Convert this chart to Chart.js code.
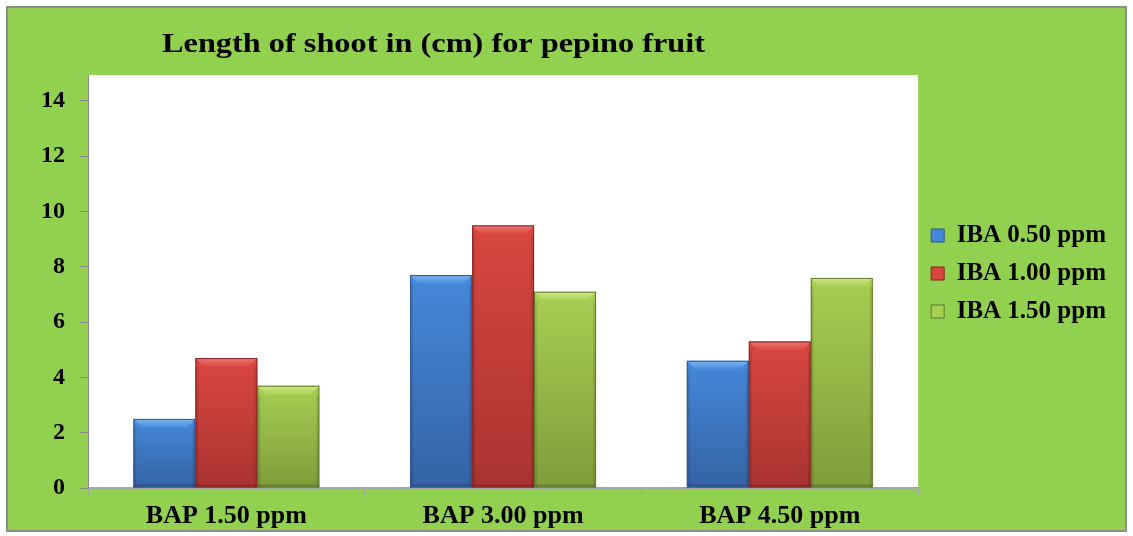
<!DOCTYPE html>
<html>
<head>
<meta charset="utf-8">
<script src="https://cdn.jsdelivr.net/npm/chart.js@4.4.0/dist/chart.umd.min.js"></script>
<style>
html, body { margin: 0; padding: 0; background: #fff; }
#frame { position: absolute; left: 6px; top: 6px; width: 1117px; height: 522px;
         border: 2px solid #8c8c8c; background: #92d050; }
</style>
</head>
<body>
<div id="frame"><canvas id="myChart"></canvas></div>
<script>
var categories = ["BAP 1.50 ppm", "BAP 3.00 ppm", "BAP 4.50 ppm"];
var seriesNames = ["IBA 0.50 ppm", "IBA 1.00 ppm", "IBA 1.50 ppm"];
var iba050 = [2.5, 7.7, 4.6];
var iba100 = [4.7, 9.5, 5.3];
var iba150 = [3.7, 7.1, 7.6];
var yTicks = [0, 2, 4, 6, 8, 10, 12, 14];
var titleText = "Length of shoot in (cm) for pepino fruit";

var FONT = '"Liberation Serif", "Times New Roman", serif';

var blue = { light: '#7cb8f2', top: '#4688da', bottom: '#3463a3', edge: '#2c5690' };
var red = { light: '#ec7672', top: '#d8473f', bottom: '#a93331', edge: '#862523' };
var green = { light: '#cfe987', top: '#a7cf52', bottom: '#7f9c3a', edge: '#62792b' };

// vertical gradient from each bar's top to the baseline
function barFill(pal) {
    return function (c) {
        if (c.type !== 'data' || !c.chart.chartArea) return pal.top;
        var y = c.chart.scales.y;
        var top = y.getPixelForValue(c.raw);
        var base = y.getPixelForValue(0);
        var g = c.chart.ctx.createLinearGradient(0, top, 0, base);
        g.addColorStop(0, pal.top);
        g.addColorStop(1, pal.bottom);
        return g;
    };
}

var palettes = [blue, red, green];

// white plot area behind the bars
var plotBg = {
    id: 'plotBg',
    beforeDraw: function (chart) {
        var a = chart.chartArea, ctx = chart.ctx;
        ctx.save();
        ctx.fillStyle = '#ffffff';
        ctx.fillRect(a.left, a.top, a.right - a.left, a.bottom - a.top);
        ctx.restore();
    }
};

// legend sits a bit above the middle of the plot in the original
var legendShift = {
    id: 'legendShift',
    afterLayout: function (chart) {
        chart.legend.bottom -= 58;
    }
};

// bevelled look on top of each bar
var bevel = {
    id: 'bevel',
    afterDatasetsDraw: function (chart) {
        var ctx = chart.ctx;
        chart.data.datasets.forEach(function (ds, i) {
            var pal = palettes[i];
            chart.getDatasetMeta(i).data.forEach(function (bar) {
                var p = bar.getProps(['x', 'y', 'base', 'width'], true);
                var l = p.x - p.width / 2, r = p.x + p.width / 2, t = p.y, b = p.base;
                var bv = Math.min(9, (b - t) / 3);
                ctx.save();
                var g = ctx.createLinearGradient(0, t, 0, t + bv);
                g.addColorStop(0, pal.light);
                g.addColorStop(1, pal.top);
                ctx.fillStyle = g;
                ctx.beginPath();
                ctx.moveTo(l, t); ctx.lineTo(r, t);
                ctx.lineTo(r - bv, t + bv); ctx.lineTo(l + bv, t + bv);
                ctx.closePath(); ctx.fill();
                ctx.fillStyle = 'rgba(0,0,0,0.10)';
                ctx.fillRect(l, t + bv, 3, b - t - bv);
                ctx.fillRect(r - 3, t + bv, 3, b - t - bv);
                ctx.fillStyle = 'rgba(0,0,0,0.15)';
                ctx.fillRect(l, b - 3, r - l, 3);
                ctx.strokeStyle = pal.edge;
                ctx.lineWidth = 1;
                ctx.strokeRect(l + 0.5, t + 0.5, r - l - 1, b - t - 1);
                ctx.restore();
            });
        });
    }
};

// chart title, placed left of centre like the original
var titlePlugin = {
    id: 'titlePlugin',
    afterDraw: function (chart) {
        var ctx = chart.ctx;
        ctx.save();
        ctx.font = 'bold 28px ' + FONT;
        ctx.fillStyle = '#000';
        ctx.textBaseline = 'alphabetic';
        var w = ctx.measureText(titleText).width;
        ctx.translate(154, 44);
        ctx.scale(543 / w, 1);
        ctx.fillText(titleText, 0, 0);
        ctx.restore();
    }
};

var ctx = document.getElementById('myChart').getContext('2d');
var chart = new Chart(ctx, {
    type: 'bar',
    data: {
        labels: categories,
        datasets: [{
            label: seriesNames[0],
            data: iba050,
            backgroundColor: barFill(blue)
        }, {
            label: seriesNames[1],
            data: iba100,
            backgroundColor: barFill(red)
        }, {
            label: seriesNames[2],
            data: iba150,
            backgroundColor: barFill(green)
        }]
    },
    options: {
        responsive: true,
        maintainAspectRatio: false,
        animation: false,
        categoryPercentage: 0.672,
        barPercentage: 1.0,
        layout: { padding: { top: 67, left: 0, right: 9, bottom: 0 } },
        plugins: {
            title: { display: false },
            tooltip: { enabled: false },
            legend: {
                position: 'right',
                align: 'center',
                labels: {
                    boxWidth: 13,
                    boxHeight: 13,
                    padding: 13,
                    color: '#000',
                    font: { family: FONT, size: 25, weight: 'bold' },
                    generateLabels: function (chart) {
                        return chart.data.datasets.map(function (ds, i) {
                            return {
                                text: ds.label,
                                fillStyle: palettes[i].top,
                                strokeStyle: palettes[i].edge,
                                lineWidth: 1,
                                datasetIndex: i
                            };
                        });
                    }
                }
            }
        },
        scales: {
            x: {
                grid: { offset: true, drawOnChartArea: false, drawTicks: true, tickLength: 7, color: '#a6a6a6' },
                border: { color: '#a6a6a6', width: 2 },
                ticks: { color: '#000', padding: 6, font: { family: FONT, size: 26, weight: 'bold' } },
                afterFit: function (s) { s.height = 42; }
            },
            y: {
                min: 0,
                max: 14.94,
                ticks: {
                    stepSize: 2,
                    padding: 15,
                    color: '#000',
                    font: { family: FONT, size: 24, weight: 'bold' }
                },
                afterBuildTicks: function (s) {
                    s.ticks = yTicks.map(function (v) { return { value: v }; });
                },
                grid: { drawOnChartArea: false, drawTicks: true, tickLength: 8, color: '#888' },
                border: { color: '#888', width: 1 },
                afterFit: function (s) { s.width = 80; }
            }
        }
    },
    plugins: [plotBg, legendShift, bevel, titlePlugin]
});
</script>
</body>
</html>
